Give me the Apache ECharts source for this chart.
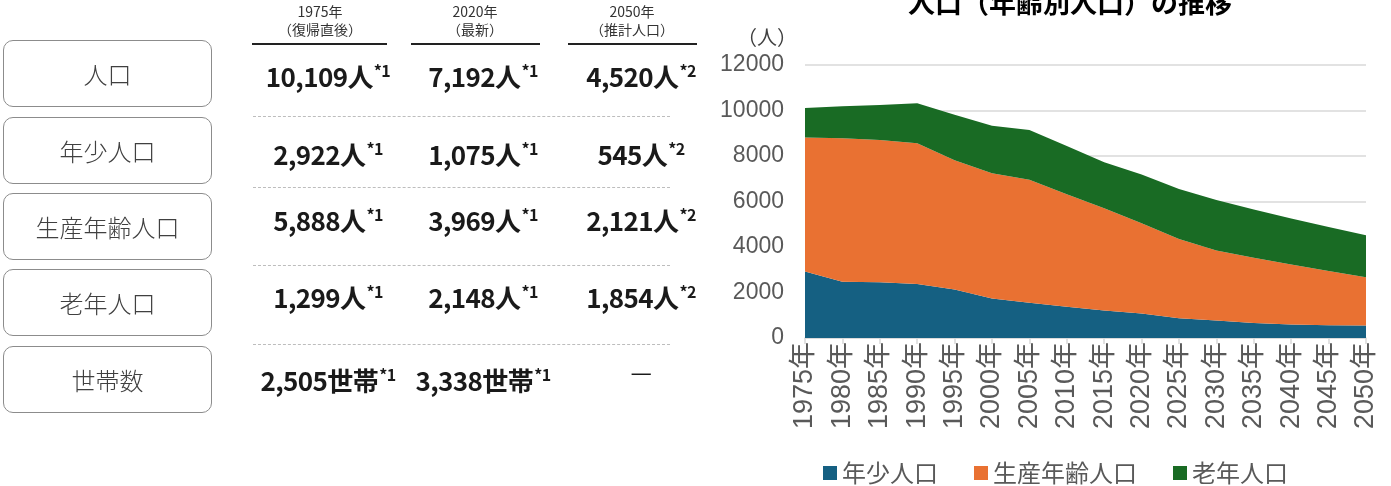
<!DOCTYPE html>
<html>
<head>
<meta charset="utf-8">
<script src="https://cdn.jsdelivr.net/npm/echarts@6/dist/echarts.min.js"></script>
<style>
  body { margin: 0; background: #fff; font-family: "Noto Sans CJK JP", sans-serif; }
  #wrap { position: relative; width: 1391px; height: 486px; overflow: hidden; }
  #chart { position: absolute; left: 0; top: 0; width: 1391px; height: 486px; }
  .box { position: absolute; left: 3px; width: 209px; height: 67px; border: 1px solid #8c8c8c; border-radius: 10px;
         box-sizing: border-box; display: flex; align-items: center; justify-content: center;
         font-size: 24px; color: #404040; font-weight: 300; }
  .hd { position: absolute; width: 140px; text-align: center; font-size: 14px; line-height: 18px; color: #333; }
  .hline { position: absolute; height: 2px; background: #222; }
  .val { position: absolute; width: 180px; text-align: center; font-size: 26px; font-weight: bold; color: #1a1a1a;
         white-space: nowrap; line-height: 30px; letter-spacing: -0.6px; }
  .val sup { font-size: 16px; vertical-align: 10px; line-height: 0; margin-left: 1px; }
  .dash { position: absolute; left: 253px; width: 417px; border-top: 1px dashed #bdbdbd; }
</style>
</head>
<body>
<div id="wrap">
  <div id="chart"></div>
  <div id="table"></div>
</div>
<script>
// chart data
var years = ['1975年','1980年','1985年','1990年','1995年','2000年','2005年','2010年',
             '2015年','2020年','2025年','2030年','2035年','2040年','2045年','2050年'];
var youth   = [2922, 2475, 2448, 2374, 2130, 1740, 1550, 1370, 1205, 1075, 870, 770, 660, 595, 560, 545];
var working = [5888, 6302, 6256, 6183, 5685, 5500, 5410, 4950, 4495, 3969, 3480, 3080, 2865, 2635, 2380, 2121];
var elderly = [1299, 1408, 1539, 1760, 1995, 2090, 2180, 2120, 2030, 2148, 2200, 2220, 2125, 2020, 1940, 1854];
var seriesNames = ['年少人口', '生産年齢人口', '老年人口'];
var colors = ['#156082', '#E97132', '#196B24'];

// table data
var rowLabels = ['人口', '年少人口', '生産年齢人口', '老年人口', '世帯数'];
var colHeads = [['1975年', '（復帰直後）'], ['2020年', '（最新）'], ['2050年', '（推計人口）']];
var tableValues = [
    ['10,109人', '7,192人', '4,520人'],
    ['2,922人', '1,075人', '545人'],
    ['5,888人', '3,969人', '2,121人'],
    ['1,299人', '2,148人', '1,854人'],
    ['2,505世帯', '3,338世帯', '—']
];
var notes = ['*1', '*1', '*2'];

// build table
var table = document.getElementById('table');
var boxTops = [40, 117, 193, 269, 346];
var rowY = [61, 139, 205, 282, 365];
var colCenters = [328, 483, 641];
var headCenters = [320, 475, 632];
var lines = [[252, 387], [411, 540], [568, 697]];
var html = '';
rowLabels.forEach(function (t, i) {
    html += '<div class="box" style="top:' + boxTops[i] + 'px">' + t + '</div>';
});
colHeads.forEach(function (h, j) {
    html += '<div class="hd" style="left:' + (headCenters[j] - 70) + 'px;top:2px">' + h[0] + '<br>' + h[1] + '</div>';
    html += '<div class="hline" style="left:' + lines[j][0] + 'px;width:' + (lines[j][1] - lines[j][0]) + 'px;top:43px"></div>';
});
tableValues.forEach(function (row, i) {
    row.forEach(function (v, j) {
        var inner = v === '—'
            ? '<span style="font-weight:normal;font-size:24px">—</span>'
            : v + '<sup>' + notes[j] + '</sup>';
        var top = v === '—' ? rowY[i] - 10 : rowY[i];
        html += '<div class="val" style="left:' + (colCenters[j] - 90) + 'px;top:' + top + 'px">' + inner + '</div>';
    });
});
[116, 187, 265, 344].forEach(function (y) {
    html += '<div class="dash" style="top:' + y + 'px"></div>';
});
table.innerHTML = html;

// chart
var chart = echarts.init(document.getElementById('chart'));
var font = '"Liberation Sans", "Noto Sans CJK JP", sans-serif';
var cjk = '"Noto Sans CJK JP", sans-serif';

var option = {
    animation: false,
    textStyle: { fontFamily: font },
    title: {
        text: '人口（年齢別人口）の推移',
        left: 903,
        top: -16,
        textStyle: { fontSize: 27, fontWeight: 'bold', color: '#000', fontFamily: cjk }
    },
    graphic: [{
        type: 'text',
        left: 737,
        top: 27,
        style: { text: '（人）', fontSize: 20, fill: '#404040', fontFamily: cjk }
    }],
    legend: {
        data: seriesNames,
        left: 818,
        top: 456,
        icon: 'rect',
        itemWidth: 14,
        itemHeight: 14,
        itemGap: 36,
        textStyle: { fontSize: 24, color: '#595959', fontFamily: cjk }
    },
    grid: { left: 805, right: 25, top: 65, bottom: 148, containLabel: false },
    xAxis: {
        type: 'category',
        data: years,
        boundaryGap: false,
        axisLine: { lineStyle: { color: '#d9d9d9', width: 1.5 } },
        axisTick: { show: true, length: 6, lineStyle: { color: '#d9d9d9', width: 1.5 } },
        axisLabel: { rotate: 90, fontSize: 27, color: '#595959', margin: 4, interval: 0 }
    },
    yAxis: {
        type: 'value',
        min: 0,
        max: 12000,
        interval: 2000,
        axisLine: { show: false },
        axisTick: { show: false },
        axisLabel: {
            fontSize: 23, color: '#595959', margin: 21,
            formatter: function (v) { return String(v); }
        },
        splitLine: { lineStyle: { color: '#d9d9d9', width: 1.5 } }
    },
    series: [youth, working, elderly].map(function (d, i) {
        return {
            name: seriesNames[i],
            type: 'line',
            stack: 'total',
            data: d,
            symbol: 'none',
            color: colors[i],
            lineStyle: { width: 0 },
            areaStyle: { color: colors[i], opacity: 1 }
        };
    })
};

chart.setOption(option);
</script>
</body>
</html>
